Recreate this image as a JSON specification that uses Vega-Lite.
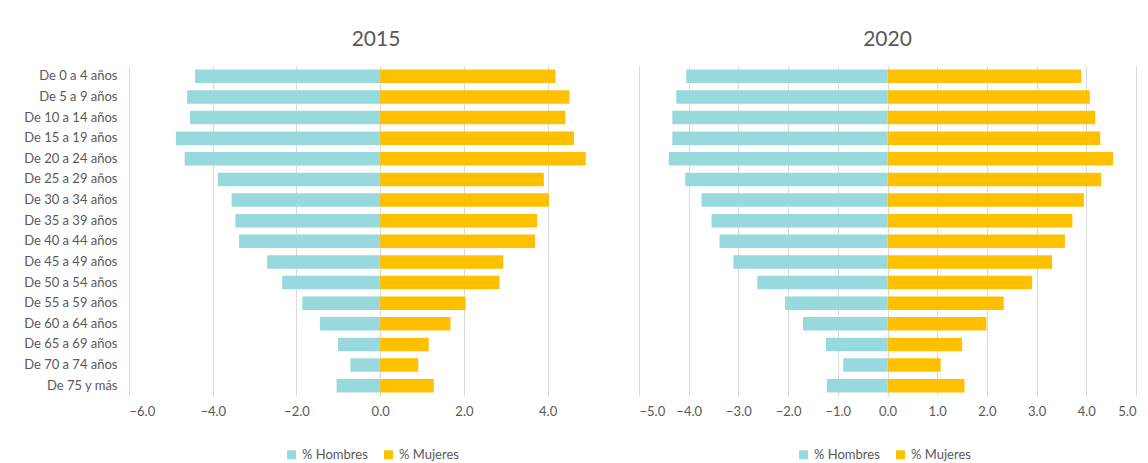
{
  "$schema": "https://vega.github.io/schema/vega-lite/v6.json",
  "padding": {"left": 5, "top": 29, "right": 5, "bottom": 5},
  "background": "white",
  "config": {
    "font": "Lato",
    "view": {"stroke": null},
    "axis": {"labelColor": "#595959", "labelFont": "Lato", "gridColor": "#D9D9D9", "gridWidth": 1, "domain": false, "ticks": false, "title": null},
    "title": {"fontSize": 21, "fontWeight": "normal", "color": "#595959", "font": "Lato", "offset": 16},
    "legend": {"symbolType": "square", "symbolSize": 81, "symbolStrokeWidth": 0, "labelFontSize": 13, "labelColor": "#595959", "labelFont": "Lato", "columnPadding": 14, "labelOffset": 4},
    "concat": {"spacing": 16}
  },
  "data": {"values": [
    {"anio": 2015, "grupo": "De 0 a 4 años", "sexo": "% Hombres", "valor": -4.42},
    {"anio": 2015, "grupo": "De 5 a 9 años", "sexo": "% Hombres", "valor": -4.61},
    {"anio": 2015, "grupo": "De 10 a 14 años", "sexo": "% Hombres", "valor": -4.54},
    {"anio": 2015, "grupo": "De 15 a 19 años", "sexo": "% Hombres", "valor": -4.88},
    {"anio": 2015, "grupo": "De 20 a 24 años", "sexo": "% Hombres", "valor": -4.67},
    {"anio": 2015, "grupo": "De 25 a 29 años", "sexo": "% Hombres", "valor": -3.88},
    {"anio": 2015, "grupo": "De 30 a 34 años", "sexo": "% Hombres", "valor": -3.55},
    {"anio": 2015, "grupo": "De 35 a 39 años", "sexo": "% Hombres", "valor": -3.46},
    {"anio": 2015, "grupo": "De 40 a 44 años", "sexo": "% Hombres", "valor": -3.37},
    {"anio": 2015, "grupo": "De 45 a 49 años", "sexo": "% Hombres", "valor": -2.7},
    {"anio": 2015, "grupo": "De 50 a 54 años", "sexo": "% Hombres", "valor": -2.34},
    {"anio": 2015, "grupo": "De 55 a 59 años", "sexo": "% Hombres", "valor": -1.86},
    {"anio": 2015, "grupo": "De 60 a 64 años", "sexo": "% Hombres", "valor": -1.44},
    {"anio": 2015, "grupo": "De 65 a 69 años", "sexo": "% Hombres", "valor": -1.01},
    {"anio": 2015, "grupo": "De 70 a 74 años", "sexo": "% Hombres", "valor": -0.71},
    {"anio": 2015, "grupo": "De 75 y más", "sexo": "% Hombres", "valor": -1.04},
    {"anio": 2015, "grupo": "De 0 a 4 años", "sexo": "% Mujeres", "valor": 4.19},
    {"anio": 2015, "grupo": "De 5 a 9 años", "sexo": "% Mujeres", "valor": 4.52},
    {"anio": 2015, "grupo": "De 10 a 14 años", "sexo": "% Mujeres", "valor": 4.42},
    {"anio": 2015, "grupo": "De 15 a 19 años", "sexo": "% Mujeres", "valor": 4.63},
    {"anio": 2015, "grupo": "De 20 a 24 años", "sexo": "% Mujeres", "valor": 4.91},
    {"anio": 2015, "grupo": "De 25 a 29 años", "sexo": "% Mujeres", "valor": 3.91},
    {"anio": 2015, "grupo": "De 30 a 34 años", "sexo": "% Mujeres", "valor": 4.03},
    {"anio": 2015, "grupo": "De 35 a 39 años", "sexo": "% Mujeres", "valor": 3.75},
    {"anio": 2015, "grupo": "De 40 a 44 años", "sexo": "% Mujeres", "valor": 3.7},
    {"anio": 2015, "grupo": "De 45 a 49 años", "sexo": "% Mujeres", "valor": 2.94},
    {"anio": 2015, "grupo": "De 50 a 54 años", "sexo": "% Mujeres", "valor": 2.85},
    {"anio": 2015, "grupo": "De 55 a 59 años", "sexo": "% Mujeres", "valor": 2.04},
    {"anio": 2015, "grupo": "De 60 a 64 años", "sexo": "% Mujeres", "valor": 1.68},
    {"anio": 2015, "grupo": "De 65 a 69 años", "sexo": "% Mujeres", "valor": 1.16},
    {"anio": 2015, "grupo": "De 70 a 74 años", "sexo": "% Mujeres", "valor": 0.91},
    {"anio": 2015, "grupo": "De 75 y más", "sexo": "% Mujeres", "valor": 1.28},
    {"anio": 2020, "grupo": "De 0 a 4 años", "sexo": "% Hombres", "valor": -4.05},
    {"anio": 2020, "grupo": "De 5 a 9 años", "sexo": "% Hombres", "valor": -4.25},
    {"anio": 2020, "grupo": "De 10 a 14 años", "sexo": "% Hombres", "valor": -4.33},
    {"anio": 2020, "grupo": "De 15 a 19 años", "sexo": "% Hombres", "valor": -4.33},
    {"anio": 2020, "grupo": "De 20 a 24 años", "sexo": "% Hombres", "valor": -4.4},
    {"anio": 2020, "grupo": "De 25 a 29 años", "sexo": "% Hombres", "valor": -4.07},
    {"anio": 2020, "grupo": "De 30 a 34 años", "sexo": "% Hombres", "valor": -3.74},
    {"anio": 2020, "grupo": "De 35 a 39 años", "sexo": "% Hombres", "valor": -3.54},
    {"anio": 2020, "grupo": "De 40 a 44 años", "sexo": "% Hombres", "valor": -3.38},
    {"anio": 2020, "grupo": "De 45 a 49 años", "sexo": "% Hombres", "valor": -3.1},
    {"anio": 2020, "grupo": "De 50 a 54 años", "sexo": "% Hombres", "valor": -2.62},
    {"anio": 2020, "grupo": "De 55 a 59 años", "sexo": "% Hombres", "valor": -2.06},
    {"anio": 2020, "grupo": "De 60 a 64 años", "sexo": "% Hombres", "valor": -1.7},
    {"anio": 2020, "grupo": "De 65 a 69 años", "sexo": "% Hombres", "valor": -1.24},
    {"anio": 2020, "grupo": "De 70 a 74 años", "sexo": "% Hombres", "valor": -0.89},
    {"anio": 2020, "grupo": "De 75 y más", "sexo": "% Hombres", "valor": -1.22},
    {"anio": 2020, "grupo": "De 0 a 4 años", "sexo": "% Mujeres", "valor": 3.9},
    {"anio": 2020, "grupo": "De 5 a 9 años", "sexo": "% Mujeres", "valor": 4.07},
    {"anio": 2020, "grupo": "De 10 a 14 años", "sexo": "% Mujeres", "valor": 4.18},
    {"anio": 2020, "grupo": "De 15 a 19 años", "sexo": "% Mujeres", "valor": 4.28},
    {"anio": 2020, "grupo": "De 20 a 24 años", "sexo": "% Mujeres", "valor": 4.54},
    {"anio": 2020, "grupo": "De 25 a 29 años", "sexo": "% Mujeres", "valor": 4.3},
    {"anio": 2020, "grupo": "De 30 a 34 años", "sexo": "% Mujeres", "valor": 3.95},
    {"anio": 2020, "grupo": "De 35 a 39 años", "sexo": "% Mujeres", "valor": 3.72},
    {"anio": 2020, "grupo": "De 40 a 44 años", "sexo": "% Mujeres", "valor": 3.57},
    {"anio": 2020, "grupo": "De 45 a 49 años", "sexo": "% Mujeres", "valor": 3.31},
    {"anio": 2020, "grupo": "De 50 a 54 años", "sexo": "% Mujeres", "valor": 2.91},
    {"anio": 2020, "grupo": "De 55 a 59 años", "sexo": "% Mujeres", "valor": 2.34},
    {"anio": 2020, "grupo": "De 60 a 64 años", "sexo": "% Mujeres", "valor": 1.99},
    {"anio": 2020, "grupo": "De 65 a 69 años", "sexo": "% Mujeres", "valor": 1.5},
    {"anio": 2020, "grupo": "De 70 a 74 años", "sexo": "% Mujeres", "valor": 1.07},
    {"anio": 2020, "grupo": "De 75 y más", "sexo": "% Mujeres", "valor": 1.55}
  ]},
  "hconcat": [
    {
      "title": {"text": "2015", "frame": "group"},
      "transform": [{"filter": "datum.anio == 2015"}],
      "width": 494,
      "height": 330,
      "mark": {"type": "bar"},
      "encoding": {
        "y": {"field": "grupo", "type": "nominal",
          "sort": ["De 0 a 4 años", "De 5 a 9 años", "De 10 a 14 años", "De 15 a 19 años", "De 20 a 24 años", "De 25 a 29 años", "De 30 a 34 años", "De 35 a 39 años", "De 40 a 44 años", "De 45 a 49 años", "De 50 a 54 años", "De 55 a 59 años", "De 60 a 64 años", "De 65 a 69 años", "De 70 a 74 años", "De 75 y más"],
          "scale": {"paddingInner": 0.35, "paddingOuter": 0.175},
          "axis": {"labelPadding": 12, "minExtent": 124, "maxExtent": 124, "labelFontSize": 13, "grid": false}},
        "x": {"field": "valor", "type": "quantitative", "stack": null,
          "scale": {"domain": [-6, 5.8], "nice": false, "zero": false},
          "axis": {"values": [-6, -4, -2, 0, 2, 4], "format": ".1f", "labelFontSize": 13, "labelPadding": 9}},
        "color": {"field": "sexo", "type": "nominal",
          "scale": {"domain": ["% Hombres", "% Mujeres"], "range": ["#97D9DD", "#FFC000"]},
          "legend": {"orient": "none", "direction": "horizontal", "legendX": 156, "legendY": 382, "title": null}}
      }
    },
    {
      "title": {"text": "2020", "frame": "group"},
      "transform": [{"filter": "datum.anio == 2020"}],
      "width": 497,
      "height": 330,
      "mark": {"type": "bar"},
      "encoding": {
        "y": {"field": "grupo", "type": "nominal",
          "sort": ["De 0 a 4 años", "De 5 a 9 años", "De 10 a 14 años", "De 15 a 19 años", "De 20 a 24 años", "De 25 a 29 años", "De 30 a 34 años", "De 35 a 39 años", "De 40 a 44 años", "De 45 a 49 años", "De 50 a 54 años", "De 55 a 59 años", "De 60 a 64 años", "De 65 a 69 años", "De 70 a 74 años", "De 75 y más"],
          "scale": {"paddingInner": 0.35, "paddingOuter": 0.175},
          "axis": null},
        "x": {"field": "valor", "type": "quantitative", "stack": null,
          "scale": {"domain": [-5, 5], "nice": false, "zero": false},
          "axis": {"values": [-5, -4, -3, -2, -1, 0, 1, 2, 3, 4, 5], "format": ".1f", "labelFontSize": 13, "labelPadding": 9}},
        "color": {"field": "sexo", "type": "nominal",
          "scale": {"domain": ["% Hombres", "% Mujeres"], "range": ["#97D9DD", "#FFC000"]},
          "legend": {"orient": "none", "direction": "horizontal", "legendX": 158, "legendY": 382, "title": null}}
      }
    }
  ],
  "resolve": {"scale": {"x": "independent", "y": "independent", "color": "independent"}, "legend": {"color": "independent"}}
}
